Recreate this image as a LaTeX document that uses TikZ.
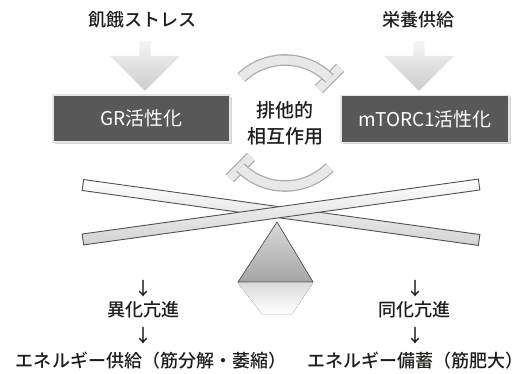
\documentclass[tikz,border=0pt]{standalone}
\usepackage{fontspec}
\usepackage{tikz}
\usetikzlibrary{calc,shapes.arrows,shadows}
\newfontfamily\jpfont{Noto Sans CJK JP Medium}
\newfontfamily\jpboxfont{Noto Sans CJK JP}
\definecolor{colorbox}  {RGB}{88 ,88 ,88 }
\definecolor{colortext} {RGB}{29 ,29 ,27 }
\definecolor{colorrod}  {RGB}{80 ,80 ,80 }

\begin{document}
\begin{tikzpicture}[
    x=1pt, y=-1pt,
    font={\jpfont\fontsize{18}{22}\selectfont},
    title/.style={text=colortext},
    state/.style={fill=colorbox,draw=white!80!gray,line width=1.5pt,text=white,
        minimum height=47pt,inner sep=0pt,font={\jpboxfont\fontsize{19}{22}\selectfont},
        drop shadow={opacity=0.35,shadow xshift=2pt,shadow yshift=-2pt}},
    bigarrow/.style={single arrow,shape border rotate=270,draw=none,
        minimum height=50pt,minimum width=70pt,single arrow head extend=18pt,
        top color=gray!8,bottom color=gray!40},
    rod/.style={draw=colorrod,line width=0.9pt,top color=white,bottom color=gray!35,
        minimum width=400pt,minimum height=11pt,inner sep=0pt},
    ring/.style={draw=gray!65,double=gray!18,double distance=9pt,line width=1.3pt},
    fulcrum/.style={draw=gray!50!black,line width=0.6pt,top color=gray!30,bottom color=gray!70},
]
    \useasboundingbox (0,0) rectangle (532,374);

    % inputs
    \node[title] (stress) at (142,20) {飢餓ストレス};
    \node[title] (food) at (418,20) {栄養供給};
    \node[bigarrow] (pushgr) at (145,63) {};
    \node[bigarrow] (pushtor) at (419,63) {};
    \node[state,minimum width=177pt] (gr) at (141.5,118.5) {GR活性化};
    \node[state,minimum width=168pt] (mtor) at (425,119) {mTORC1活性化};

    % mutual inhibition
    \node[title,align=center,font={\jpfont\fontsize{19}{26}\selectfont}] (mutual) at (285,123) {排他的\\相互作用};
    \draw[ring] ($(mutual)+(315:48)$) -- ($(mutual)+(315:78)$);
    \draw[ring] ($(mutual)+(226:63)$) arc[start angle=226,end angle=315,radius=63];
    \draw[ring] ($(mutual)+(135:48)$) -- ($(mutual)+(135:78)$);
    \draw[ring] ($(mutual)+(45:63)$) arc[start angle=45,end angle=135,radius=63];

    % balance
    \fill[top color=gray!28,bottom color=white] (238,283) -- (313,283) -- (292,314) -- (262,314) -- cycle;
    \draw[fulcrum] (277,222) -- (313,282) -- (238,282) -- cycle;
    \node[rod,rotate=-7.9] (rodcat) at (281,212.5) {};
    \node[rod,rotate=7.9] (rodana) at (281,212) {};

    % outcomes
    \node[title] (downcat) at (143,289) {↓};
    \node[title] (catab) at (143,310) {異化亢進};
    \node[title] (downsup) at (143,336) {↓};
    \node[title] (supply) at (151,361) {エネルギー供給（筋分解・萎縮）};
    \node[title] (downana) at (415,289) {↓};
    \node[title] (anab) at (414,310) {同化亢進};
    \node[title] (downsto) at (415,336) {↓};
    \node[title] (store) at (415,361) {エネルギー備蓄（筋肥大）};

\end{tikzpicture}
\end{document}
